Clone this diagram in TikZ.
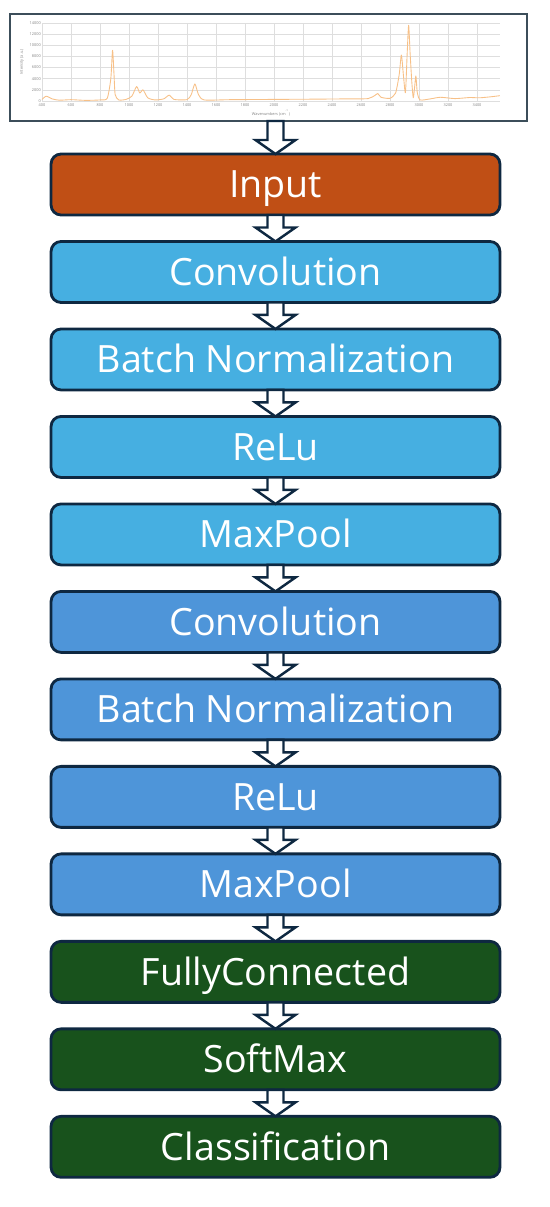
\documentclass[tikz,border=0pt]{standalone}
\usepackage{fontspec}
\setmainfont{Open Sans}
\usetikzlibrary{positioning,calc}

\definecolor{inputorange}{RGB}{192,79,21}
\definecolor{convblue}{RGB}{70,175,225}
\definecolor{deepblue}{RGB}{78,149,217}
\definecolor{headgreen}{RGB}{24,82,28}
\definecolor{edgenavy}{RGB}{14,40,65}
\definecolor{framegray}{RGB}{60,78,90}
\definecolor{gridgray}{RGB}{222,222,222}
\definecolor{traceorange}{RGB}{247,192,135}

\tikzset{
    layer/.style={draw=edgenavy,line width=1.6pt,rounded corners=0.2cm,
        minimum width=8.98cm,minimum height=1.22cm,outer sep=0pt,
        text=white,font=\fontsize{21.4}{25}\selectfont,
        text height=15pt,text depth=0pt},
    flowarrow/.style={draw=edgenavy,line width=1.4pt,fill=white,line join=miter},
    ticklabel/.style={font=\fontsize{2.2}{2.5}\selectfont,text=gray,inner sep=0.5pt}
}

% hollow block arrow from the bottom of #1 to the top of #2
\newcommand{\blockarrow}[2]{%
    \draw[flowarrow] ($(#1.south -| #2.north)+(-8,0)$) -- ($(#2.north)+(-8,-14)$)
        -- ($(#2.north)+(-20,-14)$) -- (#2.north) -- ($(#2.north)+(20,-14)$)
        -- ($(#2.north)+(8,-14)$) -- ($(#1.south -| #2.north)+(8,0)$) -- cycle;}

\begin{document}
\begin{tikzpicture}[x=0.02cm,y=-0.02cm,node distance=0.53cm]
    \useasboundingbox (0,0) rectangle (550,1207);
    %% Spectrum
    \node[draw=framegray,line width=1.4pt,minimum width=10.34cm,minimum height=2.14cm,
        outer sep=0pt,inner sep=0pt] (spectrum) at (268.5,67.5) {};
    \foreach \k in {0,...,15}
        \draw[gridgray,line width=0.3pt] ({42+29*\k},23) -- ({42+29*\k},101);
    \foreach \k in {0,...,7}
        \draw[gridgray,line width=0.3pt] (42,{101-11.14*\k}) -- (500,{101-11.14*\k});
    \foreach \k in {0,...,15}
        \pgfmathtruncatemacro{\wn}{400+200*\k}
        \node[ticklabel,anchor=north] at ({42+29*\k},102) {\wn};
    \foreach \k in {0,...,7}
        \pgfmathtruncatemacro{\iv}{2000*\k}
        \node[ticklabel,anchor=east] at (42,{101-11.14*\k}) {\iv};
    \node[ticklabel] at (271,113) {Wavenumbers (cm\textsuperscript{-1})};
    \node[ticklabel,rotate=90] at (22,62) {Intensity (a.u.)};
    \begin{scope}[shift={(-16,101)},x=0.0029cm,y=0.0001114cm]
        \draw[traceorange,line width=0.5pt,line join=round]
            plot[smooth,tension=0.4] coordinates {
            (400,300) (430,900) (470,400) (520,150) (600,250) (700,120) (800,200)
            (850,500) (875,4200) (887,9500) (897,5000) (905,1200) (930,200)
            (980,300) (1020,900) (1053,2700) (1075,1500) (1097,2100) (1130,600)
            (1180,200) (1240,400) (1278,1100) (1310,300) (1400,250) (1430,1200)
            (1455,3200) (1480,1200) (1520,200) (1700,250) (2000,300) (2300,350)
            (2500,400) (2650,450) (2700,1100) (2717,1400) (2740,700) (2800,500)
            (2840,1500) (2865,5000) (2880,8600) (2895,4500) (2908,1600) (2920,9000)
            (2930,14200) (2940,9000) (2952,3500) (2962,600) (2972,2800) (2980,4700)
            (2990,1500) (3010,200) (3080,400) (3150,700) (3250,450) (3350,650)
            (3420,600) (3500,800) (3560,1000)};
    \end{scope}
    %% Layers
    \node[layer,fill=inputorange] (input) at (275.5,184.5) {Input};
    \node[layer,fill=convblue,below=of input] (conva) {Convolution};
    \node[layer,fill=convblue,below=of conva] (norma) {Batch Normalization};
    \node[layer,fill=convblue,below=of norma] (relua) {ReLu};
    \node[layer,fill=convblue,below=of relua] (poola) {MaxPool};
    \node[layer,fill=deepblue,below=of poola] (convb) {Convolution};
    \node[layer,fill=deepblue,below=of convb] (normb) {Batch Normalization};
    \node[layer,fill=deepblue,below=of normb] (relub) {ReLu};
    \node[layer,fill=deepblue,below=of relub] (poolb) {MaxPool};
    \node[layer,fill=headgreen,below=of poolb] (dense) {FullyConnected};
    \node[layer,fill=headgreen,below=of dense] (softmax) {SoftMax};
    \node[layer,fill=headgreen,below=of softmax] (classify) {Classification};
    %% Arrows
    \blockarrow{spectrum}{input}
    \blockarrow{input}{conva}
    \blockarrow{conva}{norma}
    \blockarrow{norma}{relua}
    \blockarrow{relua}{poola}
    \blockarrow{poola}{convb}
    \blockarrow{convb}{normb}
    \blockarrow{normb}{relub}
    \blockarrow{relub}{poolb}
    \blockarrow{poolb}{dense}
    \blockarrow{dense}{softmax}
    \blockarrow{softmax}{classify}
\end{tikzpicture}
\end{document}
